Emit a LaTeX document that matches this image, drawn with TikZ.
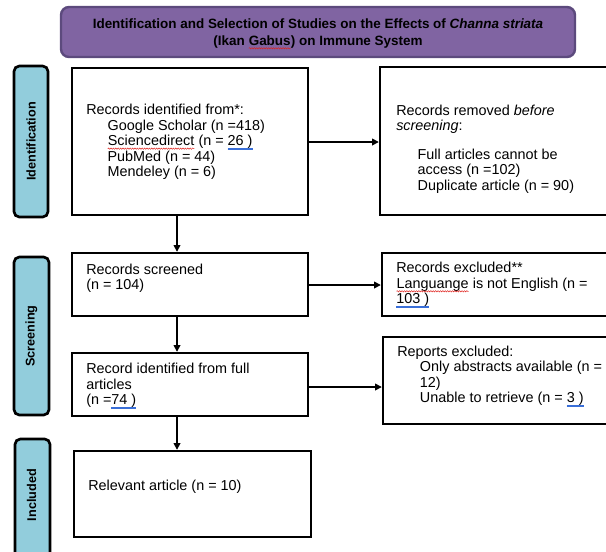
\documentclass[tikz,border=0pt]{standalone}
\usepackage{fontspec}
\setmainfont{Liberation Sans}
\usetikzlibrary{fit,arrows.meta,decorations.pathmorphing}
\definecolor{titlefill}{HTML}{8064A2}
\definecolor{titledraw}{HTML}{5C4A7D}
\definecolor{sidefill}{HTML}{92CDDC}
\definecolor{spellred}{HTML}{E0201B}
\definecolor{linkblue}{HTML}{3A6FD8}
\newcommand\redwave[1]{\tikz[baseline=(w.base)]{\node[inner sep=0pt,outer sep=0pt] (w) {#1};
  \draw[spellred,line width=0.35pt,decorate,decoration={snake,amplitude=0.5pt,segment length=1.8pt}]
  ([yshift=-2.2pt]w.base west) -- ([yshift=-2.2pt]w.base east);}}
\newcommand\blueul[1]{\setbox0\hbox{#1}\leavevmode\rlap{\textcolor{linkblue}{\rule[-2.0pt]{\wd0}{0.3pt}\kern-\wd0\rule[-2.8pt]{\wd0}{0.3pt}}}\box0}
\begin{document}
\begin{tikzpicture}[x=0.75pt,y=-0.75pt,
  box/.style={draw=black,line width=1.8pt,inner sep=0pt,fill=white},
  side/.style={draw=black,line width=2pt,fill=sidefill,rounded corners=4pt,inner sep=0pt},
  sidelabel/.style={rotate=90,font=\fontsize{9.5pt}{11pt}\selectfont\bfseries},
  txt/.style={font=\fontsize{10.8pt}{11.6pt}\selectfont,align=left,inner sep=0pt},
  arr/.style={line width=1.1pt,-{Triangle[length=5pt,width=5pt]}}]
\useasboundingbox (0,0) rectangle (606,551);
\clip (0,0) rectangle (606,551);
% title
\node[draw=titledraw,line width=1.8pt,fill=titlefill,rounded corners=6pt,inner sep=0pt,
  fit={(61,7) (575,57)}] (title) {};
\node[font=\fontsize{10.1pt}{12.6pt}\selectfont\bfseries,align=center,inner sep=0pt] (titletxt) at (318,34)
  {Identification and Selection of Studies on the Effects of \textit{Channa striata}\\(Ikan \redwave{Gabus}) on Immune System};
% side boxes
\node[side,fit={(14,66) (48,217)}] (sid) {};
\node[sidelabel] (sidt) at (sid.center) {Identification};
\node[side,fit={(14,257) (49,415)}] (sscr) {};
\node[sidelabel] (sscrt) at (sscr.center) {Screening};
\node[side,fit={(15,439) (50,575)}] (sinc) {};
\node[sidelabel] (sinct) at (31.5,495) {Included};
% main boxes
\node[box,fit={(72,68) (308,215)}] (b1) {};
\node[txt,anchor=west] (t1) at (86,142) {Records identified from*:\\
  \hspace*{16pt}Google Scholar (n =418)\\
  \hspace*{16pt}\redwave{Sciencedirect} (n = \blueul{26 )}\\
  \hspace*{16pt}PubMed (n = 44)\\
  \hspace*{16pt}Mendeley (n = 6)};
\node[box,fit={(380,67) (620,215)}] (b2) {};
\node[txt,anchor=west] (t2) at (396,149) {Records removed \textit{before}\\
  \textit{screening}:\\[10pt]
  \hspace*{16pt}Full articles cannot be\\
  \hspace*{16pt}access (n =102)\\
  \hspace*{16pt}Duplicate article (n = 90)};
\node[box,fit={(72,253) (308,316)}] (b3) {};
\node[txt,anchor=west] (t3) at (86,278) {Records screened\\(n = 104)};
\node[box,fit={(382,253) (620,316)}] (b4) {};
\node[txt,anchor=west] (t4) at (396,285) {Records excluded**\\
  \redwave{Languange} is not English (n =\\
  \blueul{103 )}};
\node[box,fit={(72,353) (308,416)}] (b5) {};
\node[txt,anchor=west] (t5) at (86,386) {Record identified from full\\articles\\(n =\blueul{74 )}};
\node[box,fit={(383,337) (620,424)}] (b6) {};
\node[txt,anchor=west] (t6) at (397,376) {Reports excluded:\\
  \hspace*{17pt}Only abstracts available (n =\\
  \hspace*{17pt}12)\\
  \hspace*{17pt}Unable to retrieve (n = \blueul{3 )}};
\node[box,fit={(74,451) (311,537)}] (b7) {};
\node[txt,anchor=west] (t7) at (88,487) {Relevant article (n = 10)};
% connectors
\coordinate (ax) at (177,0);
\coordinate (ay1) at (0,142);
\coordinate (ay2) at (0,285);
\coordinate (ay3) at (0,387);
\draw[arr] (b1.east |- ay1) -- (b2.west |- ay1);
\draw[arr] (b3.east |- ay2) -- (b4.west |- ay2);
\draw[arr] (b5.east |- ay3) -- (b6.west |- ay3);
\draw[arr] (b1.south -| ax) -- (b3.north -| ax);
\draw[arr] (b3.south -| ax) -- (b5.north -| ax);
\draw[arr] (b5.south -| ax) -- (b7.north -| ax);
\end{tikzpicture}
\end{document}
